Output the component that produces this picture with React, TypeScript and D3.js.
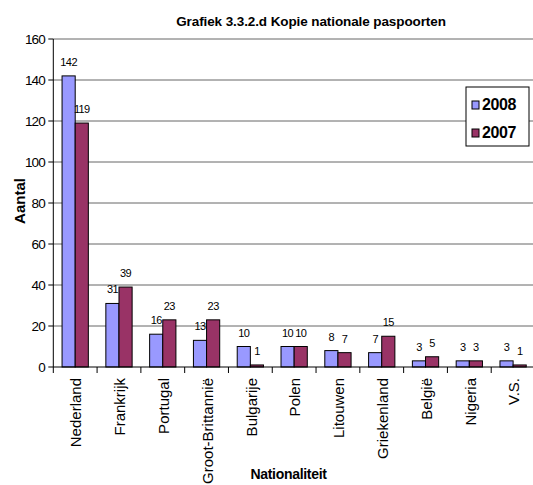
import React from "react";
import * as d3 from "d3";

const categories = ["Nederland","Frankrijk","Portugal","Groot-Brittannië","Bulgarije","Polen","Litouwen","Griekenland","België","Nigeria","V.S."];
const values2008 = [142,31,16,13,10,10,8,7,3,3,3];
const values2007 = [119,39,23,23,1,10,7,15,5,3,1];
const seriesNames = ["2008","2007"];
const seriesColors = ["#9999FF","#993366"];
const yTicks = [0,20,40,60,80,100,120,140,160];

export default function App() {
  const W = 533, H = 485;
  const left = 53.3, right = 535, top = 39, bottom = 367;
  const x = d3.scaleBand<string>().domain(categories).range([left, right]).padding(0);
  const y = d3.scaleLinear().domain([0,160]).range([bottom, top]);
  const bw = x.bandwidth();
  const inner = d3.scaleBand<string>().domain(seriesNames).range([bw*0.2, bw*0.8]).padding(0);
  const series = [values2008, values2007];
  const font = "'Liberation Sans', Arial, sans-serif";
  return (
    <svg width={W} height={H} style={{position:"absolute", left:0, top:0, background:"#fff"}} fontFamily={font}>
      <rect x={0} y={0} width={W} height={H} fill="#fff"/>
      <text x={311} y={26} textAnchor="middle" fontSize={13.5} fontWeight="bold" letterSpacing={-0.1}>Grafiek 3.3.2.d Kopie nationale paspoorten</text>
      {yTicks.filter(t=>t>0).map(t=>(
        <line key={"g"+t} x1={left} x2={W} y1={y(t)} y2={y(t)} stroke="#666" strokeWidth={1}/>
      ))}
      {categories.map((c,i)=>series.map((vals,s)=>{
        const bx = (x(c) as number) + (inner(seriesNames[s]) as number);
        return <rect key={c+s} x={bx} y={y(vals[i])} width={inner.bandwidth()} height={bottom - y(vals[i])} fill={seriesColors[s]} stroke="#000" strokeWidth={1}/>;
      }))}
      {categories.map((c,i)=>series.map((vals,s)=>{
        const bx = (x(c) as number) + (inner(seriesNames[s]) as number) + inner.bandwidth()/2;
        return <text key={"l"+c+s} x={bx} y={y(vals[i]) - 10} textAnchor="middle" fontSize={11} letterSpacing={-0.6}>{vals[i]}</text>;
      }))}
      <line x1={left} x2={left} y1={top} y2={bottom} stroke="#000"/>
      <line x1={left} x2={W} y1={bottom} y2={bottom} stroke="#000"/>
      {yTicks.map(t=>(
        <g key={"t"+t}>
          <line x1={left-5} x2={left} y1={y(t)} y2={y(t)} stroke="#000"/>
          <text x={45} y={y(t)} dy="0.35em" textAnchor="end" fontSize={13.5} letterSpacing={-0.8}>{t}</text>
        </g>
      ))}
      {categories.map((c,i)=>(
        <line key={"xt"+i} x1={x(c) as number} x2={x(c) as number} y1={bottom} y2={bottom+6} stroke="#000"/>
      ))}
      {categories.map(c=>{
        const cx = (x(c) as number) + bw/2 + 1;
        return <text key={"c"+c} transform={`translate(${cx},378) rotate(-90)`} dy="0.35em" textAnchor="end" fontSize={15}>{c}</text>;
      })}
      <text transform="translate(25,201) rotate(-90)" textAnchor="middle" fontSize={15} fontWeight="bold">Aantal</text>
      <text x={288.5} y={479} textAnchor="middle" fontSize={14} fontWeight="bold" letterSpacing={-0.3}>Nationaliteit</text>
      <g>
        <rect x={466} y={87} width={63} height={59} fill="#fff" stroke="#000" strokeWidth={1}/>
        {seriesNames.map((n,s)=>(
          <g key={"lg"+n}>
            <rect x={472} y={101 + s*28} width={7} height={8} fill={seriesColors[s]} stroke="#000" strokeWidth={1}/>
            <text x={482} y={110 + s*28} fontSize={16} fontWeight="bold" letterSpacing={-0.4}>{n}</text>
          </g>
        ))}
      </g>
    </svg>
  );
}
